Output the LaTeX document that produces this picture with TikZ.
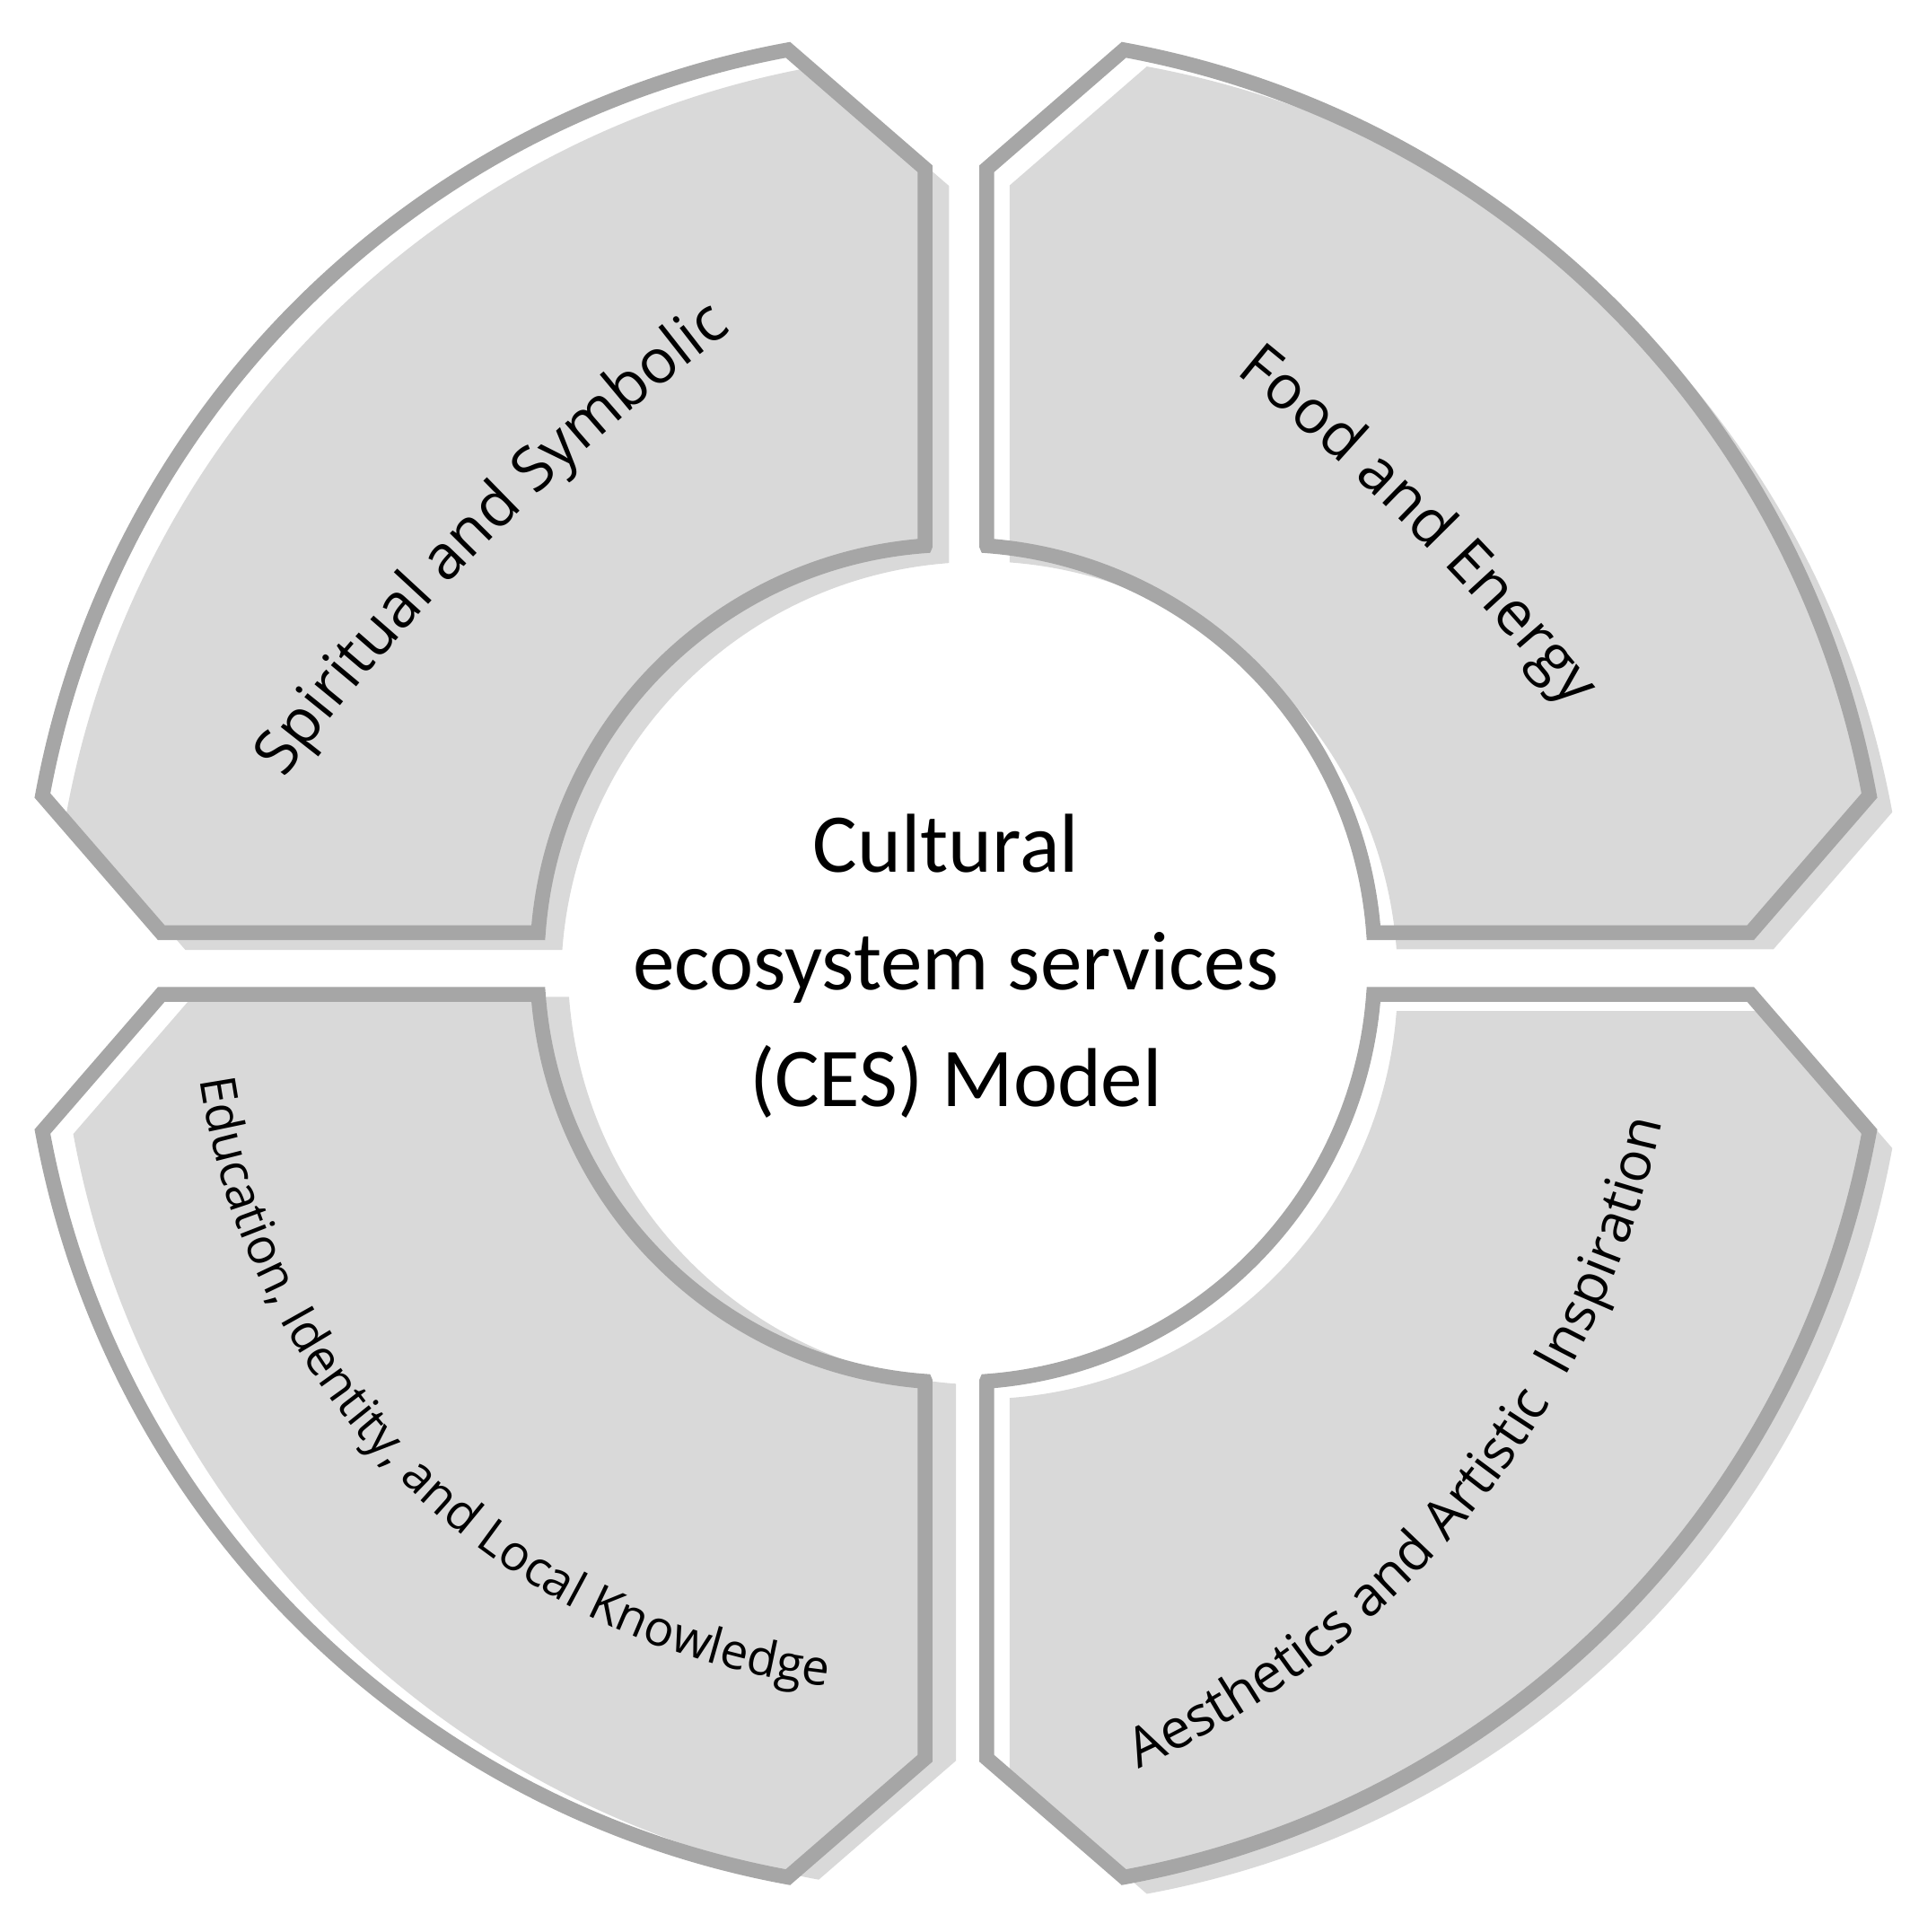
\documentclass[tikz,border=0pt]{standalone}
\usepackage{fontspec}
\usetikzlibrary{decorations.text}
\newfontfamily\opensans{Open Sans}
\newfontfamily\carlito{Carlito}
\definecolor{qfill}{HTML}{D9D9D9}
\definecolor{qline}{HTML}{A6A6A6}
\newcommand\quadpath{(25,339.1) -- (25,645) -- (79.58:754) arc[start angle=79.58, end angle=10.42, radius=754] -- (645,25) -- (4.22:340) arc[start angle=4.22, end angle=85.78, radius=340] -- cycle}
\tikzset{
  quadfill/.style={fill=qfill},
  quadline/.style={draw=qline, line width=1.2mm, line join=miter},
  ctext/.style={font=\carlito\fontsize{19.3}{23}\selectfont, inner sep=0pt, anchor=base},
}
\begin{document}
\begin{tikzpicture}[x=0.1mm,y=0.1mm]
\useasboundingbox (0,0) rectangle (1550,1568);
\coordinate (C) at (776,786);
% offset fills
\begin{scope}[shift={(794.6,772.5)}] \fill[quadfill] \quadpath; \end{scope}
\begin{scope}[shift={(795.5,772)}, xscale=-1] \fill[quadfill] \quadpath; \end{scope}
\begin{scope}[shift={(801,784)}, xscale=-1, yscale=-1] \fill[quadfill] \quadpath; \end{scope}
\begin{scope}[shift={(794.6,772.5)}, yscale=-1] \fill[quadfill] \quadpath; \end{scope}
% outlines
\begin{scope}[shift={(C)}] \draw[quadline] \quadpath; \end{scope}
\begin{scope}[shift={(C)}, xscale=-1] \draw[quadline] \quadpath; \end{scope}
\begin{scope}[shift={(C)}, xscale=-1, yscale=-1] \draw[quadline] \quadpath; \end{scope}
\begin{scope}[shift={(C)}, yscale=-1] \draw[quadline] \quadpath; \end{scope}
% centre text
\node[ctext] (cl1) at (768,860) {Cultural};
\node[ctext] (cl2) at (776,765) {ecosystem services};
\node[ctext] (cl3) at (776,670) {(CES) Model};
% quadrant labels
\coordinate (sps) at (197.3,890.6);
\coordinate (fes) at (905.6,1338);
\coordinate (eds) at (156,776);
\coordinate (aes) at (872.5,111.7);
\path[decorate, decoration={text along path, text align=center,
  text={|\opensans\fontsize{14.2}{17}\selectfont|Spiritual and Symbolic}}]
  (sps) arc[start angle=145, end angle=125, radius=1800];
\path[decorate, decoration={text along path, text align=center,
  text={|\opensans\fontsize{14}{17}\selectfont|Food and Energy}}]
  (fes) arc[start angle=55, end angle=35, radius=1800];
\path[decorate, decoration={text along path, text align=center,
  text={|\opensans\fontsize{11.4}{13}\selectfont|Education{,} Identity{,} and Local Knowledge}}]
  (eds) arc[start angle=180, end angle=272, radius=580];
\path[decorate, decoration={text along path, text align=center,
  text={|\opensans\fontsize{12.6}{15}\selectfont|Aesthetics and Artistic {\ }Inspiration}}]
  (aes) arc[start angle=-70, end angle=-8, radius=750];
\end{tikzpicture}
\end{document}
